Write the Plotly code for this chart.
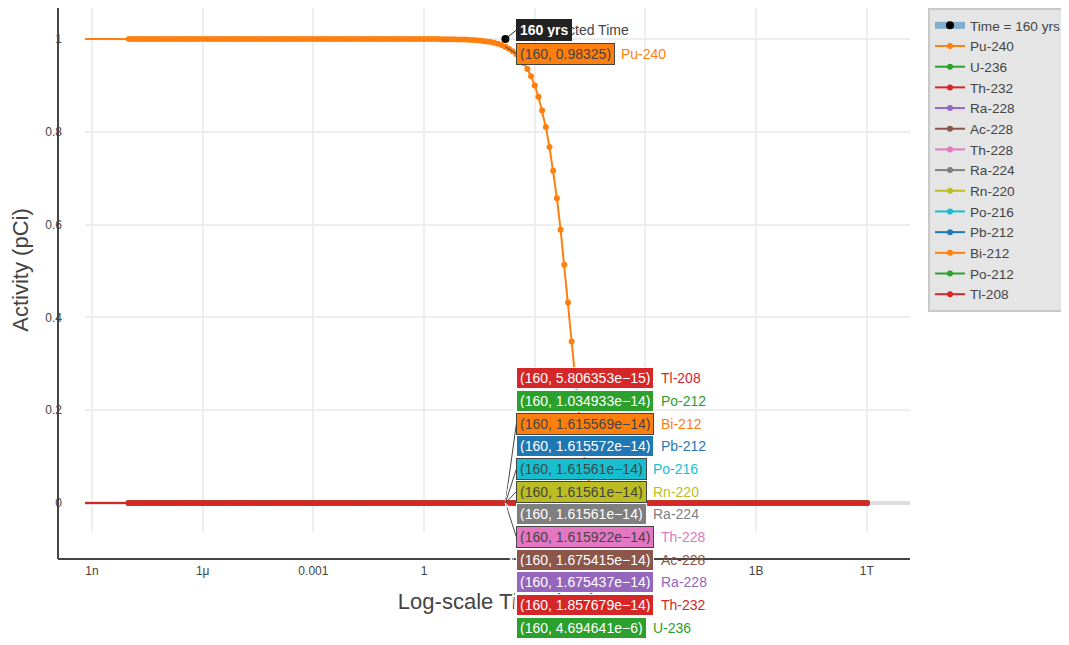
import math
import plotly.graph_objects as go

# ---------------- data ----------------
SEL_TIME = 160                     # selected time (yrs)
FIRST_TIME = 1e-10                 # first (off-axis) time point
GRID_EXPONENTS = [round(-8 + 0.1 * k, 1) for k in range(201)]   # visible log10 grid, 1e-8 .. 1e12

nuclides = ["Pu-240", "U-236", "Th-232", "Ra-228", "Ac-228", "Th-228", "Ra-224",
            "Rn-220", "Po-216", "Pb-212", "Bi-212", "Po-212", "Tl-208"]
colors = ["#ff7f0e", "#2ca02c", "#d62728", "#9467bd", "#8c564b", "#e377c2", "#7f7f7f",
          "#bcbd22", "#17becf", "#1f77b4", "#ff7f0e", "#2ca02c", "#d62728"]

# Pu-240 activity read along the decaying part of the curve (log10 time -> pCi)
pu240_decay_exp = [0.5, 0.6, 0.7, 0.8, 0.9, 1.0, 1.1, 1.2, 1.3, 1.4, 1.5, 1.6, 1.7, 1.8, 1.9,
                   2.0, 2.1, 2.2, 2.3, 2.4, 2.5, 2.6, 2.7, 2.8, 2.9, 3.0, 3.1, 3.2, 3.3, 3.4,
                   3.5, 3.6, 3.7, 3.8, 3.9, 4.0, 4.1, 4.2, 4.3, 4.4, 4.5, 4.6, 4.7, 4.8, 4.9, 5.0]
pu240_decay_val = [0.99967, 0.99958, 0.99947, 0.99933, 0.99916, 0.99894, 0.99867, 0.99833,
                   0.99790, 0.99735, 0.99667, 0.99580, 0.99472, 0.99336, 0.99165, 0.98950,
                   0.98680, 0.98340, 0.97916, 0.97382, 0.96717, 0.95885, 0.94846, 0.93556,
                   0.91956, 0.89981, 0.87555, 0.84595, 0.81012, 0.76705, 0.71618, 0.65684,
                   0.58914, 0.51371, 0.43233, 0.34797, 0.26472, 0.18763, 0.12172, 0.07052,
                   0.03552, 0.01496, 0.00505, 0.00128, 0.00023, 0.00003]
PU240_EARLY = 1.0      # activity before decay is visible
DAUGHTER_LEVEL = 0.0   # daughters stay at ~0 pCi on this scale

# activities at the selected time (hover readout)
sel_values = {
    "Pu-240": 0.98325, "U-236": 4.694641e-6, "Th-232": 1.857679e-14, "Ra-228": 1.675437e-14,
    "Ac-228": 1.675415e-14, "Th-228": 1.615922e-14, "Ra-224": 1.61561e-14, "Rn-220": 1.61561e-14,
    "Po-216": 1.61561e-14, "Pb-212": 1.615572e-14, "Bi-212": 1.615569e-14,
    "Po-212": 1.034933e-14, "Tl-208": 5.806353e-15,
}

tick_vals = [1e-9, 1e-6, 1e-3, 1, 1e3, 1e6, 1e9, 1e12]
tick_text = ["1n", "1μ", "0.001", "1", "1000", "1M", "1B", "1T"]
y_ticks = [0, 0.2, 0.4, 0.6, 0.8, 1]

# ---------------- build series ----------------
times = [FIRST_TIME]
exps = [None]
for e in GRID_EXPONENTS:
    t = 10 ** e
    if exps[-1] is not None and 10 ** exps[-1] < SEL_TIME < t:
        times.append(SEL_TIME); exps.append("sel")
    times.append(t); exps.append(e)

decay_map = dict(zip(pu240_decay_exp, pu240_decay_val))
series = {}
for name in nuclides:
    vals = []
    for t, e in zip(times, exps):
        if e == "sel":
            vals.append(sel_values[name])
        elif name == "Pu-240":
            if e is not None and e in decay_map:
                vals.append(decay_map[e])
            elif t < 10 ** 0.5:
                vals.append(PU240_EARLY)
            else:
                vals.append(DAUGHTER_LEVEL)
        else:
            vals.append(DAUGHTER_LEVEL)
    series[name] = vals

# ---------------- figure ----------------
FONT = 'Arial, "Liberation Sans", sans-serif'
fig = go.Figure()

fig.add_trace(go.Scatter(
    x=[SEL_TIME], y=[1], mode="lines+markers", name=f"Time = {SEL_TIME} yrs",
    line=dict(color="rgba(31,119,180,0.5)", width=7),
    marker=dict(color="black", size=8), hoverinfo="skip"))

for name, c in zip(nuclides, colors):
    fig.add_trace(go.Scatter(x=times, y=series[name], mode="lines+markers", name=name,
                             line=dict(color=c, width=2), marker=dict(color=c, size=6)))

# geometry (pixels) of the figure
L, R, T, B = 50, 167, 0, 94
W, H = 1069 - L - R, 645 - T - B
GAP = 27

fig.update_layout(
    width=1069, height=645, margin=dict(l=L, r=R, t=T, b=B, autoexpand=False),
    plot_bgcolor="white", paper_bgcolor="white",
    font=dict(family=FONT, size=12, color="#444"),
    showlegend=True, hovermode=False,
    legend=dict(x=(920 - L) / W, y=1, xanchor="left", yanchor="top",
                bgcolor="#e5e5e5", bordercolor="#c8c8c8", borderwidth=2,
                traceorder="normal",
                font=dict(size=13.6, color="#444")),
    xaxis=dict(type="log", range=[-9.19, 13.17], domain=[GAP / W, 1],
               anchor="free", position=0, showline=False, automargin=False,
               showgrid=True, gridcolor="#eeeeee", gridwidth=2, zeroline=False,
               tickvals=tick_vals, ticktext=tick_text, ticks="", ticklabelstandoff=3,
               title=dict(text="Log-scale Time (yrs)", standoff=16,
                          font=dict(size=22, color="#444"))),
    yaxis=dict(range=[-0.0625, 1.0668], domain=[GAP / H, 1],
               anchor="free", position=4 / W, showline=False, automargin=False,
               showgrid=True, gridcolor="#eeeeee", gridwidth=2,
               zeroline=True, zerolinecolor="#dddddd", zerolinewidth=4,
               tickvals=y_ticks, ticktext=[str(v) for v in y_ticks], ticks="",
               title=dict(text="Activity (pCi)", standoff=9,
                          font=dict(size=22, color="#444"))),
)

# axis lines spanning the full plotting box
fig.add_shape(type="line", xref="paper", yref="paper", x0=0, x1=1, y0=0, y1=0,
              line=dict(color="#444", width=2))
fig.add_shape(type="line", xref="paper", yref="paper", x0=0, x1=0, y0=0, y1=1,
              line=dict(color="#444", width=2))

# ---------------- hover-style labels ----------------
HF = 14
CW = {"(": .333, ")": .333, ",": .278, ".": .278, " ": .278, "\u00a0": .278, "e": .556,
      "\u2212": .584, "y": .5, "r": .333, "s": .5}
def text_w(s, size=HF):
    return sum(CW.get(ch, .556) for ch in s) * size

def fmt(v):
    s = f"{v:.7g}"
    if "e" in s:
        m, ex = s.split("e")
        s = m + "e" + ("\u2212" if ex.startswith("-") else "") + str(int(ex.lstrip("+-")))
    return s

def contrast(hexc):
    r, g, b = int(hexc[1:3], 16), int(hexc[3:5], 16), int(hexc[5:7], 16)
    return "#444" if (r * 299 + g * 587 + b * 114) / 1000 > 128 else "white"

XS = math.log10(SEL_TIME)
PAD, BW, BOXH = 3, 1, 14

def hover_label(y, text, bg, ay, name=None, name_color=None, border=None):
    fg = contrast(bg)
    bc = border or fg
    fig.add_annotation(x=XS, y=y, xref="x", yref="y", text=text, showarrow=True,
                       arrowhead=0, arrowwidth=1, arrowcolor=bc, ax=11, ay=ay,
                       xanchor="left", yanchor="middle", bgcolor=bg, bordercolor=bc,
                       borderwidth=BW, borderpad=PAD, height=BOXH,
                       font=dict(size=HF, color=fg))
    if name:
        boxw = text_w(text) + 2 * PAD + 2 * BW
        fig.add_annotation(x=XS, y=y, xref="x", yref="y", text=name, showarrow=False,
                           xanchor="left", yanchor="middle", xshift=11 + boxw + 4,
                           yshift=-ay, font=dict(size=HF, color=name_color))

# "Selected Time" label of the time marker
fig.add_annotation(x=XS, y=1, xref="x", yref="y", text="Selected Time", showarrow=False,
                   xanchor="left", yanchor="middle", xshift=33, yshift=9,
                   font=dict(size=14, color="#444"))
hover_label(1, f"<b>{SEL_TIME} yrs</b>", "#222222", -9, border="#222222")
hover_label(sel_values["Pu-240"], f"({SEL_TIME}, {fmt(sel_values['Pu-240'])})", colors[0], 7,
            "Pu-240", colors[0])

stack = list(zip(nuclides[1:], colors[1:]))[::-1]
STEP = 22.65
for i, (name, c) in enumerate(stack):
    ay = (i - (len(stack) - 1) / 2) * STEP
    hover_label(sel_values[name], f"({SEL_TIME}, {fmt(sel_values[name])})", c, ay, name, c)

fig.write_html("out.html")
